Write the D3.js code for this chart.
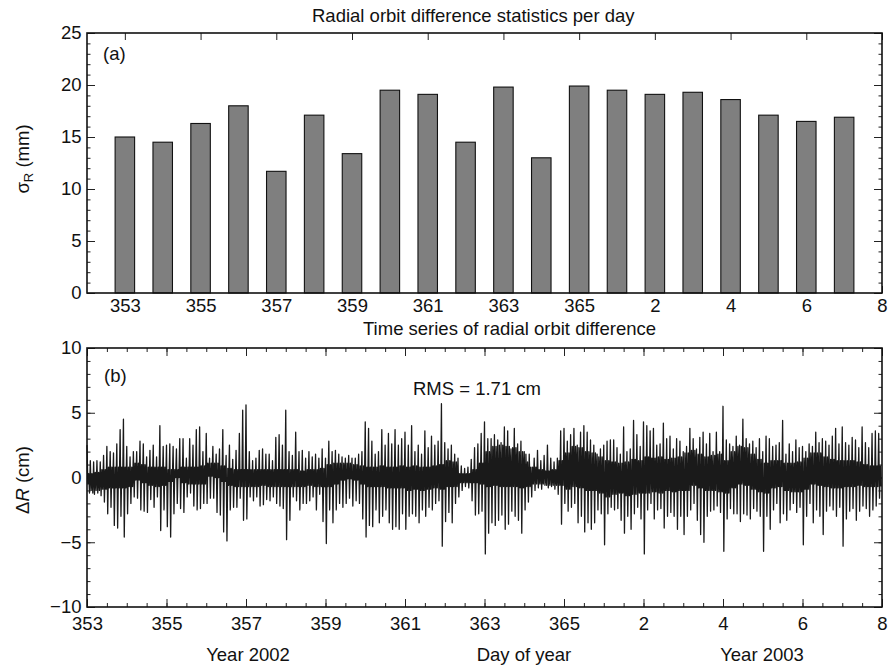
<!DOCTYPE html>
<html>
<head>
<meta charset="utf-8">
<script src="https://cdn.jsdelivr.net/npm/d3@7"></script>
<style>
body { margin: 0; background: #fff; }
svg text { font-family: "Liberation Sans", Arial, Helvetica, sans-serif; font-size: 18.5px; fill: #111; }
</style>
</head>
<body>
<svg id="chart" width="888" height="669"></svg>
<script>
// ---- data ----
var dayLabels = [353, 354, 355, 356, 357, 358, 359, 360, 361, 362, 363, 364, 365, 1, 2, 3, 4, 5, 6, 7];
var sigmaR = [15.0, 14.5, 16.3, 18.0, 11.7, 17.1, 13.4, 19.5, 19.1, 14.5, 19.8, 13.0, 19.9, 19.5, 19.1, 19.3, 18.6, 17.1, 16.5, 16.9];
var tickLabels = ["353", "355", "357", "359", "361", "363", "365", "2", "4", "6", "8"];

// radial difference (cm): per day, 12 orbit peaks and troughs
var peakCm = [
  [2.5, 1.3, 1.2, 1.3, 1.2, 1.7, 2.4, 2.0, 1.9, 2.6, 3.7, 4.5],
  [2.4, 1.6, 2.0, 2.0, 2.8, 2.6, 1.6, 2.1, 2.5, 1.6, 4.0, 2.4],
  [2.5, 2.6, 2.4, 2.2, 3.0, 3.0, 1.5, 3.0, 2.5, 3.7, 3.9, 2.0],
  [3.4, 1.5, 2.4, 1.8, 2.2, 3.7, 1.7, 2.5, 1.4, 2.1, 3.4, 5.2],
  [5.6, 2.0, 1.3, 1.5, 2.1, 2.2, 1.8, 1.8, 1.3, 3.1, 3.3, 2.5],
  [5.2, 2.0, 1.7, 3.5, 2.0, 2.1, 1.5, 2.0, 1.6, 1.8, 1.5, 2.2],
  [1.5, 2.8, 2.0, 2.1, 1.8, 1.6, 1.5, 1.7, 1.5, 1.5, 1.8, 2.0],
  [4.3, 3.8, 2.8, 1.8, 2.0, 3.7, 2.5, 3.4, 2.6, 3.7, 2.5, 3.0],
  [3.5, 2.5, 4.0, 2.0, 2.5, 1.8, 3.6, 2.3, 3.2, 2.5, 2.8, 5.7],
  [2.7, 2.2, 2.5, 1.8, 1.5, 0.9, 0.7, 0.8, 1.4, 2.3, 2.6, 3.4],
  [4.3, 3.0, 3.0, 3.3, 2.9, 2.7, 3.9, 3.6, 2.2, 3.8, 2.6, 2.8],
  [2.0, 1.2, 0.8, 1.5, 2.1, 1.3, 1.7, 2.5, 1.5, 1.2, 1.5, 3.6],
  [3.8, 2.8, 3.3, 3.8, 2.5, 3.5, 4.0, 3.5, 2.9, 2.5, 1.8, 2.2],
  [2.5, 2.8, 2.9, 2.9, 2.3, 1.8, 3.9, 2.0, 2.2, 4.4, 3.3, 2.4],
  [4.3, 4.0, 3.6, 3.8, 2.5, 2.6, 4.2, 3.0, 3.2, 2.2, 3.0, 2.8],
  [2.0, 2.4, 3.8, 3.0, 2.2, 3.1, 3.5, 2.6, 3.4, 2.0, 3.5, 2.0],
  [5.5, 2.9, 2.6, 2.4, 3.2, 2.5, 4.5, 3.0, 2.6, 2.8, 2.3, 3.0],
  [2.0, 3.2, 3.0, 2.4, 2.5, 2.7, 4.4, 1.8, 2.6, 2.0, 2.9, 2.3],
  [2.4, 2.0, 2.6, 2.4, 3.5, 2.7, 3.0, 2.8, 2.5, 3.2, 3.8, 2.6],
  [3.9, 2.7, 2.5, 3.1, 2.9, 2.3, 3.9, 2.7, 2.3, 3.4, 3.6, 3.4]
];
var troughCm = [
  [-0.5, -1.0, -1.3, -1.2, -1.4, -1.9, -2.8, -2.3, -3.7, -3.9, -3.0, -4.6],
  [-2.8, -2.0, -1.5, -1.6, -2.5, -2.6, -2.7, -1.7, -2.3, -1.5, -4.1, -2.5],
  [-3.8, -4.6, -2.8, -2.0, -2.4, -2.7, -1.5, -1.2, -2.2, -2.5, -2.4, -2.0],
  [-2.0, -1.6, -1.6, -2.7, -2.9, -4.2, -4.9, -2.5, -2.3, -2.3, -1.6, -3.3],
  [-3.2, -1.5, -1.8, -1.5, -2.2, -2.1, -1.7, -1.8, -1.5, -2.0, -2.2, -2.4],
  [-4.8, -3.3, -1.5, -1.8, -2.5, -2.0, -2.0, -1.8, -1.5, -2.5, -1.3, -3.4],
  [-5.1, -2.5, -3.5, -2.5, -2.0, -2.3, -2.0, -1.6, -2.2, -1.8, -2.0, -3.2],
  [-4.6, -3.7, -3.8, -2.5, -3.5, -3.0, -2.5, -3.5, -4.0, -3.8, -4.0, -2.8],
  [-4.0, -3.0, -2.8, -3.0, -3.5, -2.5, -3.0, -2.3, -2.5, -2.0, -1.8, -5.3],
  [-3.4, -2.7, -3.5, -2.0, -1.5, -1.0, -0.7, -0.8, -1.8, -2.9, -2.8, -2.6],
  [-5.9, -4.3, -3.5, -3.7, -3.3, -2.9, -4.0, -3.6, -2.6, -3.0, -3.3, -4.3],
  [-2.5, -1.9, -1.5, -1.0, -0.8, -0.9, -0.6, -0.8, -0.7, -0.9, -1.3, -3.6],
  [-2.0, -2.6, -2.3, -2.0, -3.5, -3.0, -4.2, -3.5, -4.0, -3.5, -2.5, -2.8],
  [-5.2, -2.8, -2.3, -2.5, -2.4, -3.3, -4.3, -3.0, -4.0, -2.8, -2.3, -3.2],
  [-5.9, -2.5, -2.0, -3.2, -2.5, -2.4, -3.9, -3.0, -2.7, -3.0, -4.0, -3.0],
  [-4.4, -3.0, -2.5, -2.0, -3.3, -4.4, -5.0, -3.0, -2.6, -2.5, -2.2, -2.7],
  [-5.7, -3.2, -2.4, -2.8, -2.8, -3.4, -2.8, -2.9, -3.2, -2.4, -2.6, -3.0],
  [-5.7, -3.0, -4.0, -2.5, -2.0, -3.5, -2.8, -3.3, -2.5, -2.0, -2.7, -2.3],
  [-5.2, -3.0, -2.0, -3.5, -2.5, -3.0, -4.4, -2.6, -2.2, -2.5, -3.0, -2.3],
  [-5.3, -3.2, -2.6, -2.4, -3.3, -2.6, -2.2, -2.4, -3.0, -2.5, -2.2, -1.6]
];
// dense black core of the trace, top and bottom, every 4 h
var coreHiCm = [
  [0.3, 0.4, 0.6, 0.8, 0.8, 0.8], [0.8, 1.1, 1.0, 0.8, 0.8, 0.8], [0.6, 0.6, 0.8, 0.8, 0.8, 0.9],
  [1.1, 1.1, 0.9, 0.7, 0.6, 0.6], [0.6, 0.6, 0.6, 0.6, 0.6, 0.6], [0.6, 0.6, 0.5, 0.6, 0.6, 0.7],
  [1.0, 1.1, 1.1, 1.1, 1.0, 0.9], [0.8, 0.8, 0.9, 0.8, 0.8, 0.9], [0.8, 0.9, 0.8, 0.8, 0.9, 1.0],
  [1.3, 1.2, 0.3, 0.3, 0.6, 1.1], [2.0, 2.4, 2.5, 2.4, 2.3, 2.0], [1.8, 0.8, 0.6, 0.5, 0.6, 1.3],
  [1.9, 2.4, 2.3, 2.0, 1.9, 1.6], [1.3, 1.2, 1.1, 1.2, 1.4, 1.3], [1.6, 1.5, 1.6, 1.4, 1.5, 1.6],
  [1.9, 2.1, 1.8, 1.6, 1.7, 1.8], [1.3, 2.0, 2.4, 2.3, 1.8, 1.4], [1.1, 1.3, 1.3, 1.1, 1.1, 1.2],
  [1.5, 1.9, 1.9, 1.6, 1.4, 1.3], [1.3, 1.3, 1.2, 1.0, 0.9, 0.9]
];
var coreLoCm = [
  [-1.2, -1.0, -0.9, -0.8, -0.8, -0.8], [-0.7, -0.2, -0.4, -0.6, -0.7, -0.6], [-0.3, 0.0, -0.4, -0.5, -0.5, -0.5],
  [0.1, 0.0, -0.3, -0.6, -0.7, -0.7], [-0.7, -0.7, -0.6, -0.7, -0.7, -0.7], [-0.7, -0.7, -0.7, -0.6, -0.7, -0.7],
  [-0.7, -0.5, -0.2, -0.1, -0.2, -0.5], [-0.7, -0.7, -0.7, -0.8, -0.8, -0.8], [-1.0, -0.9, -1.0, -0.9, -0.8, -0.9],
  [-0.7, -0.7, -0.4, -0.4, -0.4, -0.5], [-0.7, -0.6, -0.7, -0.7, -0.7, -0.8], [-0.7, -0.5, -0.5, -0.6, -0.6, -0.6],
  [-0.9, -0.7, -0.8, -1.0, -1.0, -1.2], [-1.5, -1.3, -1.2, -1.4, -1.3, -1.2], [-1.2, -1.1, -1.2, -1.0, -1.1, -1.0],
  [-1.0, -0.6, -0.8, -1.0, -1.0, -1.1], [-1.2, -0.8, -0.5, -0.6, -0.9, -1.1], [-1.2, -0.8, -0.7, -1.0, -1.1, -1.1],
  [-0.9, -0.5, -0.6, -0.7, -0.8, -0.8], [-0.7, -0.7, -0.6, -0.7, -0.7, -0.7]
];

var svg = d3.select("#chart");

// tick helper: inward ticks, no domain line (frame is drawn separately)
function addAxis(g, axis, tx, ty) {
    var a = g.append("g")
        .attr("transform", "translate(" + tx + "," + ty + ")")
        .call(axis);
    a.attr("font-family", null).attr("font-size", null);
    a.select(".domain").remove();
    a.selectAll("line").attr("stroke", "#222").attr("stroke-width", 1);
    return a;
}

// ---------------- panel (a) ----------------
var xa = d3.scaleLinear().domain([0, 21]).range([87, 882]);
var ya = d3.scaleLinear().domain([0, 25]).range([293, 33]);
var ga = svg.append("g");
var aTicks = d3.range(1, 22, 2);

addAxis(ga, d3.axisBottom(xa).tickValues(aTicks).tickFormat(function (d, i) { return tickLabels[i]; })
    .tickSizeInner(-7).tickSizeOuter(0).tickPadding(5.5), 0, 293);
addAxis(ga, d3.axisTop(xa).tickValues(aTicks).tickFormat("").tickSizeInner(-7).tickSizeOuter(0), 0, 33);
addAxis(ga, d3.axisLeft(ya).tickValues(d3.range(0, 26, 5)).tickSizeInner(-8).tickSizeOuter(0).tickPadding(5.5), 87, 0);
addAxis(ga, d3.axisLeft(ya).tickValues(d3.range(0, 26)).tickFormat("").tickSizeInner(-3.5).tickSizeOuter(0), 87, 0);
addAxis(ga, d3.axisRight(ya).tickValues(d3.range(0, 26, 5)).tickFormat("").tickSizeInner(-8).tickSizeOuter(0), 882, 0);
addAxis(ga, d3.axisRight(ya).tickValues(d3.range(0, 26)).tickFormat("").tickSizeInner(-3.5).tickSizeOuter(0), 882, 0);

var bw = (xa(1) - xa(0)) * 0.515;
ga.selectAll("rect.bar")
    .data(sigmaR)
    .enter().append("rect")
    .attr("class", "bar")
    .attr("x", function (d, i) { return xa(i + 1) - bw / 2; })
    .attr("y", function (d) { return ya(d); })
    .attr("width", bw)
    .attr("height", function (d) { return ya(0) - ya(d); })
    .attr("fill", "#7f7f7f")
    .attr("stroke", "#111")
    .attr("stroke-width", 1.1)
    .append("title").text(function (d, i) { return dayLabels[i] + ": " + d + " mm"; });

ga.append("rect").attr("x", 87).attr("y", 33).attr("width", 795).attr("height", 260)
    .attr("fill", "none").attr("stroke", "#111").attr("stroke-width", 1.6);

ga.append("text").attr("x", 312).attr("y", 22).text("Radial orbit difference statistics per day");
ga.append("text").attr("x", 103).attr("y", 60).text("(a)");
var la = ga.append("text").attr("transform", "translate(29,159) rotate(-90)").attr("text-anchor", "middle");
la.append("tspan").text("\u03C3");
la.append("tspan").attr("dy", 4).style("font-size", "13px").text("R");
la.append("tspan").attr("dy", -4).text(" (mm)");

// ---------------- panel (b) ----------------
var xb = d3.scaleLinear().domain([0, 20]).range([87, 882]);
var yb = d3.scaleLinear().domain([-10, 10]).range([607, 348]);
var gb = svg.append("g");

addAxis(gb, d3.axisBottom(xb).tickValues(d3.range(0, 21, 2)).tickFormat(function (d, i) { return tickLabels[i]; })
    .tickSizeInner(-8).tickSizeOuter(0).tickPadding(9.7), 0, 607);
addAxis(gb, d3.axisBottom(xb).tickValues(d3.range(0, 20.01, 0.5)).tickFormat("").tickSizeInner(-4).tickSizeOuter(0), 0, 607);
addAxis(gb, d3.axisTop(xb).tickValues(d3.range(0, 21, 2)).tickFormat("").tickSizeInner(-8).tickSizeOuter(0), 0, 348);
addAxis(gb, d3.axisTop(xb).tickValues(d3.range(0, 20.01, 0.5)).tickFormat("").tickSizeInner(-4).tickSizeOuter(0), 0, 348);
addAxis(gb, d3.axisLeft(yb).tickValues([-10, -5, 0, 5, 10]).tickSizeInner(-8).tickSizeOuter(0).tickPadding(5.5), 87, 0);
addAxis(gb, d3.axisLeft(yb).tickValues(d3.range(-10, 11)).tickFormat("").tickSizeInner(-3.5).tickSizeOuter(0), 87, 0);
addAxis(gb, d3.axisRight(yb).tickValues([-10, -5, 0, 5, 10]).tickFormat("").tickSizeInner(-8).tickSizeOuter(0), 882, 0);
addAxis(gb, d3.axisRight(yb).tickValues(d3.range(-10, 11)).tickFormat("").tickSizeInner(-3.5).tickSizeOuter(0), 882, 0);

// build the trace: per orbit peak, trough, then core top/bottom
var series = [];
peakCm.forEach(function (hi, d) {
    hi.forEach(function (v, i) {
        var c = i >> 1;
        var t0 = d + i / 12;
        series.push({ t: t0, v: v });
        series.push({ t: t0 + 1 / 48, v: troughCm[d][i] });
        series.push({ t: t0 + 2 / 48, v: coreHiCm[d][c] });
        series.push({ t: t0 + 3 / 48, v: coreLoCm[d][c] });
    });
});

var line = d3.line()
    .x(function (d) { return xb(d.t); })
    .y(function (d) { return yb(d.v); });
gb.append("path")
    .datum(series)
    .attr("d", line)
    .attr("fill", "none")
    .attr("stroke", "#1a1a1a")
    .attr("stroke-width", 1.3)
    .attr("stroke-linejoin", "round");

gb.append("rect").attr("x", 87).attr("y", 348).attr("width", 795).attr("height", 259)
    .attr("fill", "none").attr("stroke", "#111").attr("stroke-width", 1.6);

gb.append("text").attr("x", 363).attr("y", 335).text("Time series of radial orbit difference");
gb.append("text").attr("x", 104).attr("y", 382).text("(b)");
gb.append("text").attr("x", 413).attr("y", 395).text("RMS = 1.71 cm");
gb.append("text").attr("x", 248).attr("y", 661).attr("text-anchor", "middle").text("Year 2002");
gb.append("text").attr("x", 524).attr("y", 661).attr("text-anchor", "middle").text("Day of year");
gb.append("text").attr("x", 762).attr("y", 661).attr("text-anchor", "middle").text("Year 2003");
var lb = gb.append("text").attr("transform", "translate(29,480) rotate(-90)").attr("text-anchor", "middle");
lb.append("tspan").text("\u0394");
lb.append("tspan").attr("font-style", "italic").text("R");
lb.append("tspan").text(" (cm)");
</script>
</body>
</html>
